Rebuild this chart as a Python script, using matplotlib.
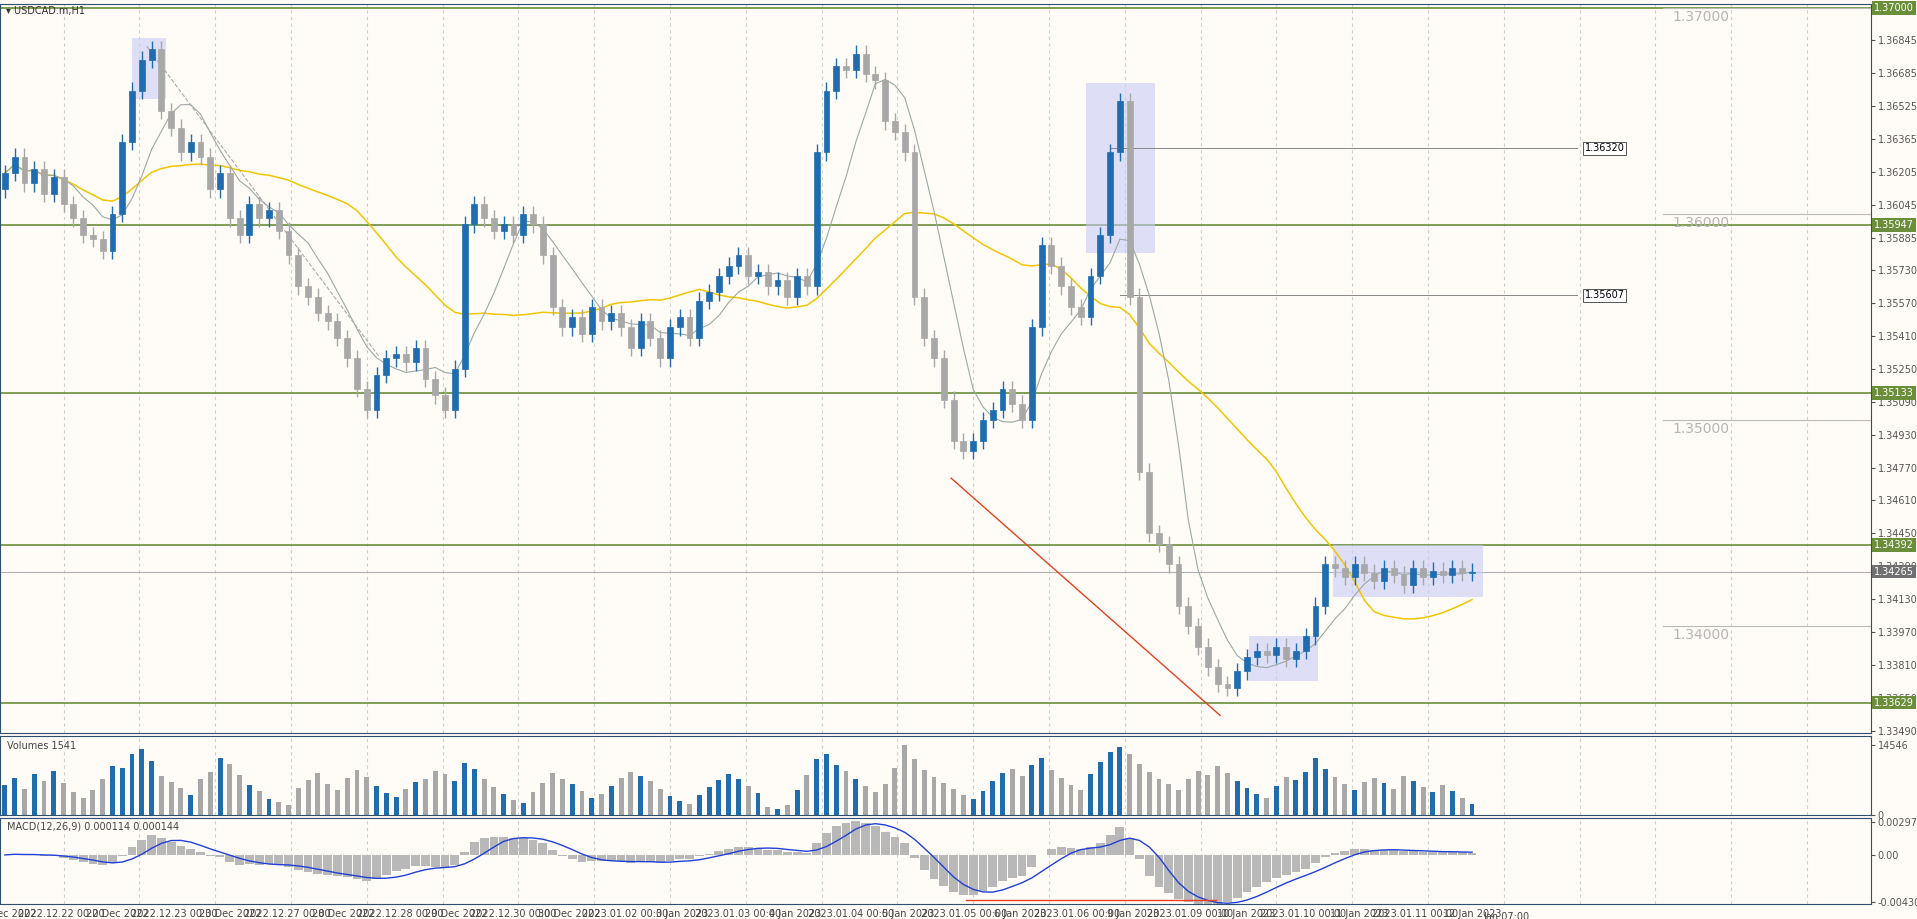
import matplotlib.pyplot as plt
import numpy as np
from matplotlib.patches import Rectangle

# hourly closes, USDCAD
closes = [1.3620, 1.3628, 1.3615, 1.3622, 1.3610, 1.3618, 1.3605, 1.3598, 1.3590, 1.3588,
          1.3582, 1.3600, 1.3635, 1.3660, 1.3675, 1.3680, 1.3650, 1.3642, 1.3630, 1.3635,
          1.3628, 1.3612, 1.3620, 1.3598, 1.3590, 1.3605, 1.3598, 1.3602, 1.3592, 1.3580,
          1.3565, 1.3560, 1.3552, 1.3548, 1.3540, 1.3530, 1.3515, 1.3505, 1.3522, 1.3530,
          1.3532, 1.3528, 1.3535, 1.3520, 1.3512, 1.3505, 1.3525, 1.3595, 1.3605, 1.3598,
          1.3592, 1.3595, 1.3590, 1.3600, 1.3595, 1.3580, 1.3555, 1.3545, 1.3550, 1.3542,
          1.3555, 1.3548, 1.3552, 1.3545, 1.3535, 1.3548, 1.3540, 1.3530, 1.3545, 1.3550,
          1.3540, 1.3558, 1.3562, 1.3570, 1.3575, 1.3580, 1.3570, 1.3572, 1.3565, 1.3568,
          1.3560, 1.3570, 1.3565, 1.3630, 1.3660, 1.3672, 1.3670, 1.3678, 1.3668, 1.3665,
          1.3645, 1.3640, 1.3630, 1.3560, 1.3540, 1.3530, 1.3510, 1.3490, 1.3485, 1.3490,
          1.3500, 1.3505, 1.3515, 1.3508, 1.3500, 1.3545, 1.3585, 1.3575, 1.3565, 1.3555,
          1.3550, 1.3570, 1.3590, 1.3630, 1.3655, 1.3560, 1.3475, 1.3445, 1.3440, 1.3430,
          1.3410, 1.3400, 1.3390, 1.3380, 1.3372, 1.3370, 1.3378, 1.3385, 1.3388, 1.3386,
          1.3390, 1.3384, 1.3388, 1.3395, 1.3410, 1.3430, 1.3428, 1.3424, 1.3430, 1.3426,
          1.3422, 1.3428, 1.3425, 1.3420, 1.3428, 1.3424, 1.3427, 1.3425, 1.3428, 1.3426,
          1.34265]
first_open = 1.3612

volumes = [6200, 7800, 5400, 8600, 7000, 9200, 6600, 4800, 3600, 5200,
           7400, 10200, 9800, 12600, 13800, 11200, 8200, 6800, 5600, 4200,
           7600, 9000, 11800, 10600, 8400, 6200, 5000, 3400, 2800, 2200,
           5600, 7200, 8800, 6400, 5200, 7800, 9400, 8000, 6000, 4600,
           3800, 5400, 6800, 7400, 9200, 8600, 7000, 10800, 9600, 7400,
           5800, 4400, 3200, 2600, 4800, 6600, 8800, 7600, 6400, 5000,
           3600, 4400, 6000, 7800, 9000, 8200, 7000, 5400, 4000, 3000,
           2400, 4200, 5800, 7200, 8600, 7400, 6000, 4600, 1600, 1200,
           2000, 5200, 8400, 11600, 12800, 10400, 9200, 7600, 6000, 4800,
           6400, 9800, 14546, 11600, 9400, 8000, 6600, 5400, 4200, 3400,
           5000, 7000, 8800, 9600, 8200, 10400, 11800, 9400, 7800, 6200,
           5200, 8600, 11000, 13200, 14200, 12800, 10600, 9000, 7600, 6400,
           5200, 7400, 9200, 8400, 10200, 8800, 7000, 5600, 4400, 3600,
           6000, 8000, 7200, 9000, 11800, 9600, 8000, 6400, 5200, 6800,
           7800, 6600, 5400, 8200, 7000, 5800, 4800, 6200, 5000, 3600,
           2400]

green_levels = [1.37000, 1.35947, 1.35133, 1.34392, 1.33629]
round_levels = [1.37, 1.36, 1.35, 1.34]
marked = [(1.36320, 113), (1.35607, 114)]
price_ticks = [1.36845, 1.36685, 1.36525, 1.36365, 1.36205, 1.36045, 1.35885, 1.35730,
               1.35570, 1.35410, 1.35250, 1.35090, 1.34930, 1.34770, 1.34610, 1.34450,
               1.34290, 1.34130, 1.33970, 1.33810, 1.33650, 1.33490]
date_labels = ['21 Dec 2022', '2022.12.22 00:00', '22 Dec 2022', '2022.12.23 00:00',
               '23 Dec 2022', '2022.12.27 00:00', '28 Dec 2022', '2022.12.28 00:00',
               '29 Dec 2022', '2022.12.30 00:00', '30 Dec 2022', '2023.01.02 00:00',
               '3 Jan 2023', '2023.01.03 00:00', '4 Jan 2023', '2023.01.04 00:00',
               '5 Jan 2023', '2023.01.05 00:00', '6 Jan 2023', '2023.01.06 00:00',
               '9 Jan 2023', '2023.01.09 00:00', '10 Jan 2023', '2023.01.10 00:00',
               '11 Jan 2023', '2023.01.11 00:00', '12 Jan 2023']

closes = np.array(closes)
n = len(closes)
opens = np.concatenate([[first_open], closes[:-1]])
idx = np.arange(n)

BG = '#fffcf8'
BLUE = '#1f6db0'
GRAY = '#a8a8a8'
GREEN = '#6b8e3a'
W, H = 1568.0, 752.0
FS = 7

fig = plt.figure(figsize=(19.17, 9.19), dpi=100, facecolor=BG)
ax = fig.add_axes([0, 1 - 600 / H, 1530 / W, 597 / H], facecolor=BG)
axv = fig.add_axes([0, 1 - 667 / H, 1530 / W, 65 / H], facecolor=BG, sharex=ax)
axm = fig.add_axes([0, 1 - 740 / H, 1530 / W, 71 / H], facecolor=BG, sharex=ax)

xmax = -0.5 + 1530 / 8
ax.set_xlim(-0.5, xmax)
ax.set_ylim(1.3348, 1.37022)

def px(x):
    return (x - 4) / 8.0

def py(y):
    return 1.37022 - y / 16930.0

# grid
for a in (ax, axv, axm):
    for gx in np.arange(6, xmax, 7.75):
        a.axvline(gx, color='#d0d0d0', ls=(0, (3, 3)), lw=0.8, zorder=0)
    for s in a.spines.values():
        s.set_color('#2e4f6e')
    a.tick_params(axis='y', which='both', right=True, left=False, labelright=True, labelleft=False,
                  labelsize=FS, colors='#555555', length=3, pad=2)
    a.tick_params(axis='x', length=0)

# moving averages (bars here are two hours wide)
ma_slow = np.array([closes[max(0, i - 24):i + 1].mean() for i in range(n)])
ma_fast = np.array([closes[max(0, i - 6):i + 1].mean() for i in range(n)])

# levels
for lv in green_levels:
    ax.axhline(lv, color=GREEN, lw=1.2, zorder=1)
ax.axhline(closes[-1], color='#b0b0b0', lw=0.8, zorder=1)
for lv in round_levels:
    ax.plot([px(1360), px(1530)], [lv, lv], color='#bbbbbb', lw=0.8)
    ax.text(px(1368), lv - 0.0001, '%.5f' % lv, color='#b5b5b5', fontsize=10, va='top')
for lv, i0 in marked:
    ax.plot([i0, px(1290)], [lv, lv], color='#888888', lw=0.7)
    ax.text(px(1296), lv, '%.5f' % lv, fontsize=FS, va='center',
            bbox=dict(boxstyle='square,pad=0.15', fc='white', ec='#555555', lw=0.7))

# rectangles
for x0, y0, x1, y1 in [(108, 28, 136, 78), (888, 65, 945, 205), (1022, 520, 1078, 557), (1090, 445, 1213, 488)]:
    ax.add_patch(Rectangle((px(x0), py(y1)), px(x1) - px(x0), py(y0) - py(y1),
                           fc='#c8cdf5', ec='none', alpha=0.6, zorder=1))

ax.plot([px(778), px(998)], [py(390), py(585)], color='#e8411c', lw=1)
ax.plot([px(120), px(310)], [py(35), py(290)], color='#aaaaaa', lw=0.8, ls='--')

ax.plot(idx, ma_slow, color='#f2c500', lw=1.1, zorder=2)
ax.plot(idx, ma_fast, color='#9aa9a5', lw=0.8, zorder=2)

# candles
up = closes >= opens
for i in range(n):
    c = BLUE if up[i] else GRAY
    lo, hi = min(opens[i], closes[i]), max(opens[i], closes[i])
    ax.vlines(i, lo - 0.0004, hi + 0.0004, color=c, lw=1, zorder=3)
    ax.add_patch(Rectangle((i - 0.3, lo), 0.6, max(hi - lo, 0.00004), fc=c, ec=c, lw=0.5, zorder=4))

ax.set_yticks(price_ticks)
ax.set_yticklabels(['%.5f' % t for t in price_ticks])
for lv in green_levels:
    ax.text(1.002, lv, '%.5f' % lv, transform=ax.get_yaxis_transform(), fontsize=FS, color='white',
            va='center', bbox=dict(boxstyle='square,pad=0.2', fc=GREEN, ec='none'), zorder=10)
ax.text(1.002, closes[-1], '%.5f' % closes[-1], transform=ax.get_yaxis_transform(), fontsize=FS,
        color='white', va='center', bbox=dict(boxstyle='square,pad=0.2', fc='#707070', ec='none'), zorder=10)
ax.text(0.003, 0.997, '▾ USDCAD.m,H1', transform=ax.transAxes, fontsize=FS, va='top', color='#333333')

# volumes
axv.bar(idx, volumes, width=0.5, color=[BLUE if u else GRAY for u in up])
axv.set_ylim(0, 16500)
axv.set_yticks([0, 14546])
axv.set_yticklabels(['0', '14546'])
axv.text(0.004, 0.93, 'Volumes 1541', transform=axv.transAxes, fontsize=FS, va='top', color='#444444')

# MACD
def ema(v, p):
    k = 2.0 / (p + 1)
    out = [v[0]]
    for x in v[1:]:
        out.append(out[-1] + k * (x - out[-1]))
    return np.array(out)

macd = ema(closes, 6) - ema(closes, 13)
signal = np.array([macd[max(0, i - 4):i + 1].mean() for i in range(n)])
axm.bar(idx, macd, width=0.9, color='#b8b8b8')
axm.plot(idx, signal, color='#2040d8', lw=1)
axm.plot([px(790), px(995)], [-0.0041, -0.0041], color='#e8411c', lw=1)
axm.set_ylim(-0.0045, 0.0034)
axm.set_yticks([0.002978, 0.0, -0.004308])
axm.set_yticklabels(['0.002978', '0.00', '-0.004308'])
axm.text(0.004, 0.95, 'MACD(12,26,9) 0.000114 0.000144', transform=axm.transAxes, fontsize=FS,
         va='top', color='#444444')

# date labels
pos = np.linspace(0, 150, len(date_labels))
axm.set_xticks(pos)
axm.set_xticklabels(date_labels, fontsize=FS, color='#444444')
plt.setp(ax.get_xticklabels(), visible=False)
plt.setp(axv.get_xticklabels(), visible=False)
axm.text(px(1213), -0.0052, 'Jan 07:00', fontsize=FS, va='top', color='#444444')

fig.savefig('out.png', dpi=100, facecolor=BG)
